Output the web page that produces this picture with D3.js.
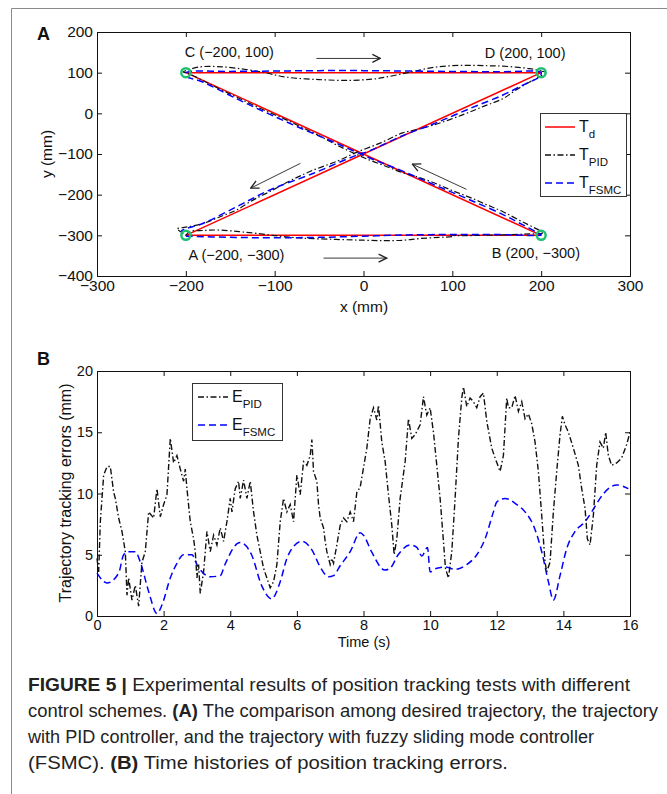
<!DOCTYPE html>
<html lang="en">
<meta charset="utf-8">
<script src="https://cdn.jsdelivr.net/npm/d3@7"></script>
<style>
    body { margin: 0; background: #fff; }
    svg text { font-family: "Liberation Sans", Arial, sans-serif; fill: #111; }
</style>
<body>
<div id="svg"></div>

<script>
    // ---------------- panel A : trajectories (mm)
    var corners = [[-200, -300], [200, -300], [-200, 100], [200, 100]];
    var cornerNames = ["A (\u2212200, \u2212300)", "B (200, \u2212300)", "C (\u2212200, 100)", "D (200, 100)"];
    var namePos = [[-143, -349], [194, -344], [-151, 152], [182, 149]];

    // desired path A -> B -> C -> D -> A
    var desired = [[-200, -300], [200, -300], [-200, 100], [200, 100], [-200, -300]];

    var pidPath = [
        [-200, -300], [-196, -291], [-180, -288], [-162, -287], [-140, -291], [-121, -295], [-95, -302],
        [-68, -307], [-31, -310], [0, -312], [25, -313], [45, -312], [63, -308], [85, -305], [100, -303],
        [104, -299], [99, -299], [110, -301], [130, -300], [157, -299], [180, -297], [194, -296], [203, -294],
        [200, -290], [180, -268], [157, -242], [138, -224], [119, -206], [100, -190], [82, -173], [63, -158],
        [44, -146], [25, -130], [7, -115], [-12, -97], [-31, -77], [-50, -55], [-68, -36], [-87, -16],
        [-106, 2], [-125, 21], [-143, 40], [-162, 60], [-181, 81], [-195, 96], [-203, 102],
        [-200, 105], [-185, 114], [-165, 115], [-143, 111], [-113, 101], [-87, 89], [-50, 83], [-16, 81],
        [10, 84], [25, 89], [52, 101], [82, 114], [112, 118], [140, 117], [157, 116], [187, 110], [200, 104],
        [206, 100], [200, 92], [187, 77], [170, 55], [157, 36], [135, 17], [110, -5], [80, -28], [60, -40],
        [44, -48], [20, -72], [-8, -96], [-30, -118], [-57, -140], [-80, -163], [-106, -193], [-125, -214],
        [-143, -238], [-160, -253], [-181, -271], [-200, -280], [-210, -284], [-205, -292], [-200, -300]
    ];

    var fsmcPath = [
        [-200, -302], [-150, -305], [-100, -306], [-50, -305], [0, -302], [50, -299], [100, -298],
        [150, -298], [200, -299], [198, -296], [180, -275], [157, -249], [120, -213], [82, -178],
        [44, -142], [7, -110], [-31, -73], [-68, -39], [-106, -2], [-143, 36], [-181, 77], [-200, 92],
        [-200, 100], [-150, 103], [-100, 104], [-50, 105], [0, 105], [50, 104], [100, 103], [150, 102],
        [200, 100], [198, 90], [180, 70], [157, 45], [120, 12], [80, -25], [44, -55], [7, -92],
        [-8, -103], [-57, -148], [-106, -189], [-143, -230], [-181, -271], [-205, -290], [-200, -302]
    ];

    // direction arrows [x1, y1, x2, y2]
    var arrows = [[-53, 135, 19, 135], [-45, -356, 26, -356], [-71, -123, -127, -184], [116, -187, 55, -125]];

    var xTicksA = [-300, -200, -100, 0, 100, 200, 300];
    var yTicksA = [-400, -300, -200, -100, 0, 100, 200];

    // ---------------- panel B : tracking errors
    var tPID = [0, 0.05, 0.1, 0.2, 0.3, 0.4, 0.5, 0.55, 0.65, 0.75, 0.85, 0.9, 0.95, 1.05, 1.15, 1.25,
        1.35, 1.45, 1.55, 1.7, 1.8, 1.9, 2.0, 2.1, 2.2, 2.3, 2.4, 2.5, 2.6, 2.65, 2.7, 2.8, 2.9, 2.95,
        3.0, 3.05, 3.1, 3.2, 3.3, 3.4, 3.5, 3.6, 3.7, 3.8, 3.9, 4.0, 4.05, 4.15, 4.25, 4.3, 4.4, 4.5,
        4.6, 4.7, 4.8, 4.9, 5.0, 5.1, 5.2, 5.3, 5.4, 5.5, 5.6, 5.7, 5.8, 5.9, 6.0, 6.1, 6.2, 6.3, 6.4,
        6.45, 6.5, 6.6, 6.65, 6.7, 6.8, 6.85, 6.9, 7.0, 7.05, 7.1, 7.2, 7.3, 7.4, 7.5, 7.6, 7.7, 7.8,
        7.9, 8.1, 8.2, 8.3, 8.4, 8.45, 8.55, 8.65, 8.75, 8.85, 8.92, 9.0, 9.1, 9.25, 9.35, 9.45, 9.55,
        9.7, 9.8, 9.9, 10.0, 10.1, 10.2, 10.3, 10.4, 10.46, 10.55, 10.65, 10.75, 10.85, 10.95, 11.0,
        11.1, 11.2, 11.3, 11.4, 11.5, 11.6, 11.7, 11.85, 11.95, 12.1, 12.2, 12.3, 12.35, 12.45, 12.55,
        12.65, 12.75, 12.85, 12.95, 13.05, 13.15, 13.25, 13.35, 13.45, 13.5, 13.6, 13.7, 13.8, 13.9,
        13.97, 14.05, 14.15, 14.3, 14.45, 14.55, 14.65, 14.72, 14.8, 14.9, 15.0, 15.1, 15.2, 15.27,
        15.35, 15.45, 15.6, 15.75, 15.9, 16.0];
    var ePID = [4.7, 3.6, 7.7, 11.5, 12.2, 12.2, 10.1, 9.6, 8.0, 6.9, 5.25, 1.7, 3.1, 1.3, 2.5, 0.8,
        4.4, 5.25, 8.5, 8.0, 10.4, 8.1, 9.1, 9.9, 14.5, 12.5, 13.1, 12.0, 11.0, 12.0, 10.4, 7.7, 6.3, 5.25,
        3.1, 4.2, 1.85, 3.6, 6.9, 5.25, 6.6, 5.8, 7.2, 6.1, 7.7, 9.6, 8.5, 10.4, 11.0, 9.6, 11.1, 9.6,
        11.0, 8.5, 6.6, 5.25, 3.9, 3.1, 2.3, 2.8, 4.2, 7.7, 9.6, 8.5, 9.1, 7.7, 11.5, 9.9, 12.6, 12.3, 13.1,
        14.4, 11.8, 11.0, 9.1, 8.0, 7.2, 6.1, 5.25, 4.2, 4.7, 4.3, 5.8, 7.4, 8.0, 7.7, 8.5, 7.7, 10.1,
        10.5, 13.7, 16.1, 17.0, 16.0, 17.2, 14.2, 12.6, 9.9, 7.4, 5.0, 6.3, 9.6, 12.6, 16.1, 14.5, 14.8,
        15.6, 17.9, 16.4, 17.0, 15.0, 12.3, 9.6, 6.1, 3.9, 3.1, 5.25, 9.6, 14.5, 17.8, 18.7,
        17.1, 17.8, 17.5, 17.0, 17.9, 18.2, 15.9, 13.7, 12.9, 11.8, 13.1, 17.8, 17.0, 17.0, 18.0,
        16.7, 17.5, 16.1, 16.5, 15.7, 14.2, 11.8, 8.2, 4.4, 3.6, 4.4, 8.5, 11.8, 14.8,
        16.3, 15.6, 15.0, 13.7, 12.3, 10.4, 8.8, 6.3, 5.8, 8.2, 12.3, 14.2, 13.7, 15.0,
        13.1, 12.3, 12.5, 12.9, 14.0, 15.0];

    var tFSMC = [0, 0.3, 0.65, 0.8, 0.95, 1.15, 1.3, 1.55, 1.8, 1.95, 2.2, 2.4, 2.6, 2.85, 3.0, 3.4,
        3.7, 3.84, 4.29, 4.64, 4.94, 5.24, 5.5, 5.7, 5.85, 6.15, 6.45, 6.7, 6.95, 7.1, 7.3, 7.6, 7.9,
        8.0, 8.24, 8.64, 8.8, 9.04, 9.4, 9.6, 9.75, 9.92, 10.0, 10.2, 10.45, 10.75, 11.1, 11.4, 11.65,
        11.9, 12.0, 12.25, 12.6, 12.85, 13.1, 13.35, 13.55, 13.7, 13.9, 14.1, 14.35, 14.65, 14.85, 15.1,
        15.4, 15.6, 15.95];
    var eFSMC = [3.5, 2.7, 3.5, 5.0, 5.25, 5.25, 4.4, 2.0, 0.2, 0.9, 3.1, 4.3, 5.0, 5.0, 4.2, 3.2,
        3.3, 4.2, 6.0, 5.0, 2.5, 1.4, 2.8, 4.7, 5.5, 6.1, 5.4, 4.0, 3.2, 3.3, 4.1, 5.25, 6.8,
        6.6, 5.25, 3.75, 3.9, 5.0, 5.8, 5.6, 4.9, 5.6, 3.6, 3.9, 4.0, 3.8, 4.2, 5.0, 6.3,
        8.5, 9.3, 9.6, 9.1, 8.5, 7.4, 5.25, 2.8, 1.3, 3.3, 5.5, 6.9, 7.7, 8.5, 9.6,
        10.5, 10.7, 10.4];

    var xTicksB = [0, 2, 4, 6, 8, 10, 12, 14, 16];
    var yTicksB = [0, 5, 10, 15, 20];

    var captionLines = [
        [["FIGURE 5 | ", true], ["Experimental results of position tracking tests with different", false]],
        [["control schemes. ", false], ["(A)", true], [" The comparison among desired trajectory, the trajectory", false]],
        [["with PID controller, and the trajectory with fuzzy sliding mode controller", false]],
        [["(FSMC). ", false], ["(B)", true], [" Time histories of position tracking errors.", false]]
    ];
    var captionEnds = [630, 658, 594, 508];

    // --------------------------------------------------
    var W = 667, H = 794;
    var svg = d3.select("#svg").append("svg")
        .attr("width", W)
        .attr("height", H);

    // figure frame
    svg.append("path")
        .attr("d", "M11.5," + H + "V8.5H" + W)
        .attr("fill", "none")
        .attr("stroke", "#8a8a8a")
        .attr("stroke-width", 1);

    var defs = svg.append("defs");
    defs.append("marker")
        .attr("id", "arrowhead")
        .attr("viewBox", "0 0 10 10")
        .attr("refX", 9).attr("refY", 5)
        .attr("markerWidth", 10).attr("markerHeight", 10)
        .attr("markerUnits", "userSpaceOnUse")
        .attr("orient", "auto")
        .append("path")
        .attr("d", "M1,1 L9,5 L1,9")
        .attr("fill", "none")
        .attr("stroke", "#222")
        .attr("stroke-width", 1.3);

    function frameAxes(g, x, y, xt, yt, fs) {
        var x0 = x.range()[0], x1 = x.range()[1], y0 = y.range()[0], y1 = y.range()[1];
        g.append("g").attr("transform", "translate(0," + y0 + ")")
            .call(d3.axisBottom(x).tickValues(xt).tickSize(-5).tickPadding(4).tickFormat(d3.format("d")))
            .call(styleAxis, fs);
        g.append("g").attr("transform", "translate(0," + y1 + ")")
            .call(d3.axisTop(x).tickValues(xt).tickSize(-5).tickFormat(""))
            .call(styleAxis, fs);
        g.append("g").attr("transform", "translate(" + x0 + ",0)")
            .call(d3.axisLeft(y).tickValues(yt).tickSize(-5).tickPadding(4).tickFormat(d3.format("d")))
            .call(styleAxis, fs);
        g.append("g").attr("transform", "translate(" + x1 + ",0)")
            .call(d3.axisRight(y).tickValues(yt).tickSize(-5).tickFormat(""))
            .call(styleAxis, fs);
    }

    function styleAxis(a, fs) {
        a.select(".domain").attr("stroke", "#111").attr("stroke-width", 1);
        a.selectAll(".tick line").attr("stroke", "#111");
        a.selectAll(".tick text").attr("font-size", fs).attr("fill", "#111")
            .attr("font-family", "Liberation Sans, Arial, sans-serif");
    }

    function legendRow(g, x, y, color, dash, main, sub) {
        g.append("line")
            .attr("x1", x).attr("x2", x + 30).attr("y1", y).attr("y2", y)
            .attr("stroke", color).attr("stroke-width", 1.5)
            .attr("stroke-dasharray", dash);
        var t = g.append("text").attr("x", x + 34).attr("y", y + 5).attr("font-size", 16);
        t.append("tspan").text(main);
        t.append("tspan").attr("dy", 6).attr("font-size", 11.5).text(sub);
    }

    var dashDot = "6,2.5,1.5,2.5", dashed = "7,4";

    // ================= panel A
    var xA = d3.scaleLinear().domain([-300, 300]).range([97, 630]);
    var yA = d3.scaleLinear().domain([-400, 200]).range([276, 32]);
    var gA = svg.append("g");

    gA.append("rect")
        .attr("x", 97).attr("y", 32).attr("width", 533).attr("height", 244)
        .attr("fill", "#fff");

    var lineA = d3.line().x(function(d) { return xA(d[0]); }).y(function(d) { return yA(d[1]); });

    gA.append("path").datum(desired).attr("d", lineA)
        .attr("fill", "none").attr("stroke", "#ff0000").attr("stroke-width", 1.5);
    gA.append("path").datum(pidPath).attr("d", lineA.curve(d3.curveCatmullRom))
        .attr("fill", "none").attr("stroke", "#111").attr("stroke-width", 1.2)
        .attr("stroke-dasharray", dashDot);
    gA.append("path").datum(fsmcPath).attr("d", lineA.curve(d3.curveCatmullRom))
        .attr("fill", "none").attr("stroke", "#0000ff").attr("stroke-width", 1.5)
        .attr("stroke-dasharray", dashed);
    lineA.curve(d3.curveLinear);

    gA.selectAll("circle.corner").data(corners).enter().append("circle")
        .attr("class", "corner")
        .attr("cx", function(d) { return xA(d[0]); })
        .attr("cy", function(d) { return yA(d[1]); })
        .attr("r", 4.5)
        .attr("fill", "none")
        .attr("stroke", "#1fbf72")
        .attr("stroke-width", 2.5);

    gA.selectAll("text.cname").data(cornerNames).enter().append("text")
        .attr("class", "cname")
        .attr("x", function(d, i) { return xA(namePos[i][0]); })
        .attr("y", function(d, i) { return yA(namePos[i][1]); })
        .attr("dy", "0.35em")
        .attr("text-anchor", "middle")
        .attr("font-size", 14.5)
        .text(function(d) { return d; });

    gA.selectAll("line.arrow").data(arrows).enter().append("line")
        .attr("class", "arrow")
        .attr("x1", function(d) { return xA(d[0]); })
        .attr("y1", function(d) { return yA(d[1]); })
        .attr("x2", function(d) { return xA(d[2]); })
        .attr("y2", function(d) { return yA(d[3]); })
        .attr("stroke", "#222").attr("stroke-width", 0.9)
        .attr("marker-end", "url(#arrowhead)");

    frameAxes(gA, xA, yA, xTicksA, yTicksA, 15.5);

    gA.append("text").attr("x", 364).attr("y", 312).attr("text-anchor", "middle")
        .attr("font-size", 15.5).text("x (mm)");
    gA.append("text").attr("transform", "translate(52,154) rotate(-90)").attr("text-anchor", "middle")
        .attr("font-size", 15.5).text("y (mm)");
    gA.append("text").attr("x", 37).attr("y", 40).attr("font-size", 18).attr("font-weight", "bold")
        .text("A");

    var legA = gA.append("g");
    legA.append("rect").attr("x", 540.5).attr("y", 113.5).attr("width", 86).attr("height", 83)
        .attr("fill", "#fff").attr("stroke", "#333").attr("stroke-width", 1);
    legendRow(legA, 545, 127, "#ff0000", null, "T", "d");
    legendRow(legA, 545, 155, "#111", dashDot, "T", "PID");
    legendRow(legA, 545, 183, "#0000ff", dashed, "T", "FSMC");

    // ================= panel B
    var xB = d3.scaleLinear().domain([0, 16]).range([97, 630]);
    var yB = d3.scaleLinear().domain([0, 20]).range([616, 371]);
    var gB = svg.append("g");

    var lineB = d3.line()
        .x(function(d) { return xB(d[0]); })
        .y(function(d) { return yB(d[1]); });

    gB.append("path").datum(d3.zip(tFSMC, eFSMC))
        .attr("d", lineB.curve(d3.curveMonotoneX))
        .attr("fill", "none").attr("stroke", "#0000ff").attr("stroke-width", 1.5)
        .attr("stroke-dasharray", dashed);
    gB.append("path").datum(d3.zip(tPID, ePID))
        .attr("d", lineB.curve(d3.curveLinear))
        .attr("fill", "none").attr("stroke", "#111").attr("stroke-width", 1.4)
        .attr("stroke-dasharray", dashDot);

    frameAxes(gB, xB, yB, xTicksB, yTicksB, 14.5);

    gB.append("text").attr("x", 364).attr("y", 647).attr("text-anchor", "middle")
        .attr("font-size", 14.5).text("Time (s)");
    gB.append("text").attr("transform", "translate(71,493) rotate(-90)").attr("text-anchor", "middle")
        .attr("font-size", 16).text("Trajectory tracking errors (mm)");
    gB.append("text").attr("x", 37).attr("y", 365).attr("font-size", 18).attr("font-weight", "bold")
        .text("B");

    var legB = gB.append("g");
    legB.append("rect").attr("x", 192.5).attr("y", 383.5).attr("width", 90).attr("height", 57)
        .attr("fill", "#fff").attr("stroke", "#333").attr("stroke-width", 1);
    legendRow(legB, 198, 397, "#111", dashDot, "E", "PID");
    legendRow(legB, 198, 425, "#0000ff", dashed, "E", "FSMC");

    // ================= caption
    var cap = svg.append("g");
    captionLines.forEach(function(parts, i) {
        var t = cap.append("text")
            .attr("x", 28).attr("y", 691 + i * 26)
            .attr("font-size", 17.5)
            .attr("textLength", captionEnds[i] - 28)
            .attr("lengthAdjust", "spacingAndGlyphs")
            .style("fill", "#222");
        parts.forEach(function(p) {
            t.append("tspan").attr("font-weight", p[1] ? "bold" : "normal").text(p[0]);
        });
    });
</script>
</body>
</html>
